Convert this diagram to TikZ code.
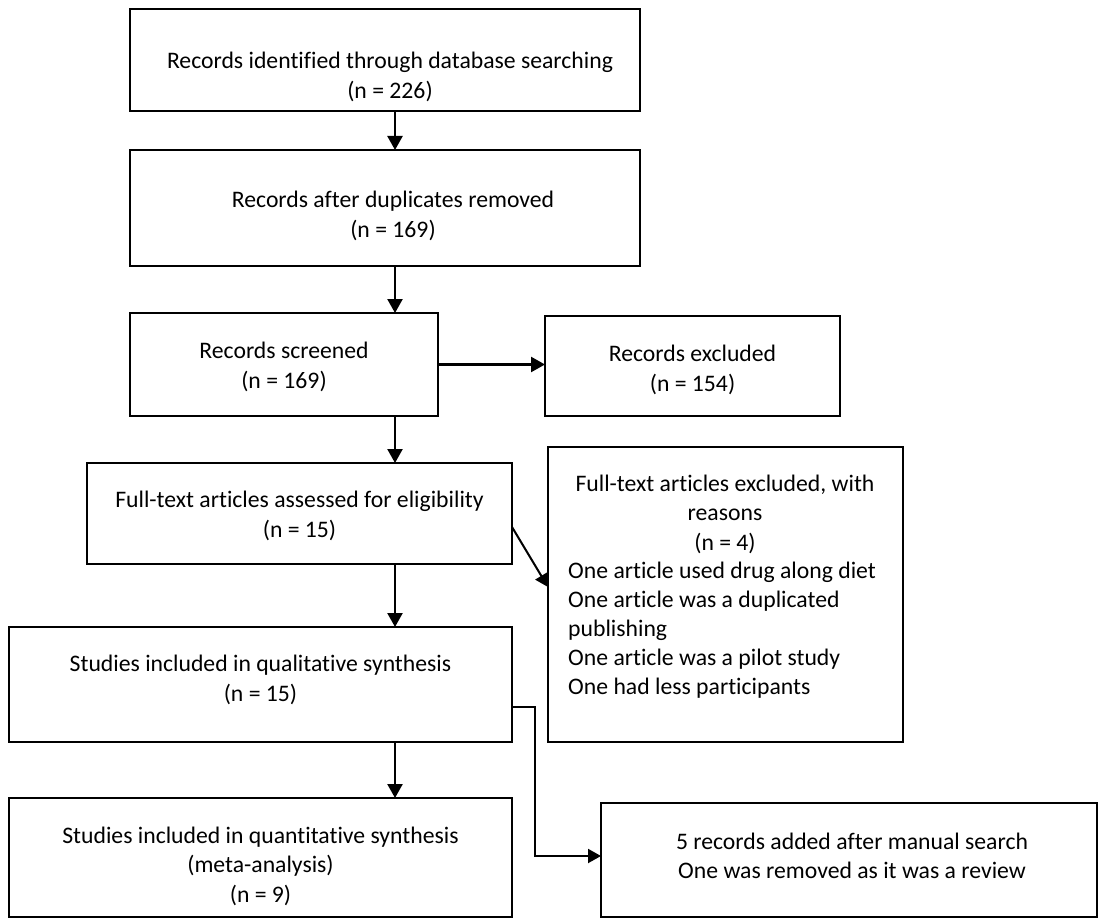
\documentclass[tikz,border=0pt]{standalone}
\usepackage{fontspec}
\setmainfont{Carlito}[Ligatures=NoCommon]
\usetikzlibrary{arrows.meta,calc}
\begin{document}
\begin{tikzpicture}[x=1pt,y=-1pt,
 box/.style={draw=black, line width=1.8pt, inner sep=0pt, outer sep=0pt, fill=white},
 txt/.style={align=center, inner sep=0pt, font=\fontsize{23.7}{29.5}\selectfont},
 ltxt/.style={txt, align=left, font=\fontsize{23.7}{29}\selectfont},
 arr/.style={line width=2.4pt, -{Triangle[length=14pt,width=15pt]}},
 conn/.style={line width=2pt, -{Triangle[length=13pt,width=14pt]}}]
\useasboundingbox[fill=white] (0,0) rectangle (1099,920);
% boxes
\node[box, minimum width=510, minimum height=102] (a) at (385,60) {};
\node[box, minimum width=510, minimum height=116] (b) at (385,208) {};
\node[box, minimum width=308, minimum height=103] (c) at (284,364.5) {};
\node[box, minimum width=295, minimum height=100] (d) at (692.5,366) {};
\node[box, minimum width=425, minimum height=101] (e) at (299.5,513.5) {};
\node[box, minimum width=355, minimum height=295] (i) at (725.5,594.5) {};
\node[box, minimum width=503, minimum height=115] (f) at (260.5,684.5) {};
\node[box, minimum width=503, minimum height=119] (g) at (260.5,857.5) {};
\node[box, minimum width=496, minimum height=114] (h) at (849,860) {};
% texts
\node[txt] (ta) at (390,77) {Records identified through database searching\\(n = 226)};
\node[txt] (tb) at (393,216) {Records after duplicates removed\\(n = 169)};
\node[txt] (tc) at (284,367) {Records screened\\(n = 169)};
\node[txt] (td) at (692.5,370) {Records excluded\\(n = 154)};
\node[txt] (te) at (299.5,516) {Full-text articles assessed for eligibility\\(n = 15)};
\node[txt] (ti1) at (725,514) {Full-text articles excluded, with\\reasons\\(n = 4)};
\node[ltxt, anchor=west] (ti2) at (568,630) {One article used drug along diet\\One article was a duplicated\\publishing\\One article was a pilot study\\One had less participants};
\node[txt] (tf) at (260.5,680) {Studies included in qualitative synthesis\\(n = 15)};
\node[txt] (tg) at (260.5,866) {Studies included in quantitative synthesis\\(meta-analysis)\\(n = 9)};
\node[txt] (th) at (852,856) {5 records added after manual search\\One was removed as it was a review};
% connectors
\coordinate (col) at (395,0);
\coordinate (jog) at (535,856);
\draw[arr] (a.south -| col) -- (b.north -| col);
\draw[arr] (b.south -| col) -- (c.north -| col);
\draw[arr] (c.east) -- (c.east -| d.west);
\draw[arr] (c.south -| col) -- (e.north -| col);
\draw[arr] (e.south -| col) -- (f.north -| col);
\draw[arr] (f.south -| col) -- (g.north -| col);
\draw[conn] ([yshift=-13.5pt]e.east) -- ([yshift=7.5pt]i.west);
\draw[conn] ([yshift=-22.5pt]f.east) -| (jog) -- (jog -| h.west);
\end{tikzpicture}
\end{document}
